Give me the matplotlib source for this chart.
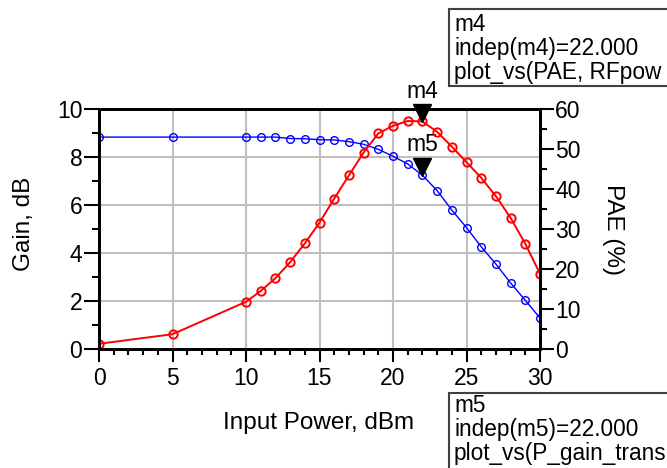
import matplotlib.pyplot as plt
import matplotlib.transforms as mtransforms
from matplotlib.patches import Rectangle

plt.rcParams['font.family'] = ['Liberation Sans', 'DejaVu Sans']

# input power sweep (dBm)
pin = [0, 5, 10, 11, 12, 13, 14, 15, 16, 17, 18, 19, 20,
       21, 22, 23, 24, 25, 26, 27, 28, 29, 30]
# transducer gain (dB)
gain = [8.83, 8.83, 8.83, 8.83, 8.83, 8.77, 8.76, 8.72, 8.71, 8.64, 8.53, 8.32, 8.03,
        7.71, 7.24, 6.60, 5.79, 5.06, 4.26, 3.54, 2.75, 2.03, 1.29]
# power added efficiency (%)
pae = [1.3, 3.7, 11.8, 14.5, 17.7, 21.7, 26.4, 31.6, 37.6, 43.4, 49.1, 53.9, 55.8,
       57.0, 56.9, 54.3, 50.6, 46.7, 42.8, 38.2, 32.8, 26.3, 18.8]

m4_x, m4_y = 22, 56.9
m5_x, m5_y = 22, 7.24

fig = plt.figure(figsize=(6.67, 4.68), dpi=100)
ax = fig.add_axes([99/667, 1 - 349/468, 441/667, 240/468])
ax2 = ax.twinx()

gridc = '#c0c0c0'
for v in [5, 10, 15, 20, 25]:
    ax.axvline(v, color=gridc, lw=1.5, zorder=0)
for v in [2, 4, 6, 8]:
    ax.axhline(v, color=gridc, lw=1.5, zorder=0)

ax.plot(pin, gain, color='#0000ff', lw=1, marker='o', ms=5.5, mfc='none', mew=1)
ax2.plot(pin, pae, color='#ff0000', lw=1.4, marker='o', ms=6, mfc='none', mew=1.4)

ax.set_xlim(0, 30)
ax.set_ylim(0, 10)
ax2.set_ylim(0, 60)
ax.set_xticks(range(0, 31, 5))
ax.set_xticks(range(0, 31), minor=True)
ax.set_yticks(range(0, 11, 2))
ax.set_yticks(range(0, 11), minor=True)
ax2.set_yticks(range(0, 61, 10))
ax2.set_yticks(range(0, 61, 5), minor=True)

ax.tick_params(axis='x', which='major', length=9, width=1.5, pad=4, labelsize=16.5)
ax.tick_params(axis='x', which='minor', length=4.5, width=1.5)
ax.tick_params(axis='y', which='major', length=11, width=1.5, pad=1, labelsize=16.5)
ax.tick_params(axis='y', which='minor', length=5, width=1.5)
ax2.tick_params(axis='y', which='major', length=10, width=1.5, pad=1, labelsize=16.5)
ax2.tick_params(axis='y', which='minor', length=5, width=1.5)
for a in (ax, ax2):
    for s in a.spines.values():
        s.set_linewidth(2)

# markers m4 / m5
ms_tri = 12.5
for a, x, y, name in [(ax2, m4_x, m4_y, 'm4'), (ax, m5_x, m5_y, 'm5')]:
    tr = mtransforms.offset_copy(a.transData, fig=fig, x=0, y=ms_tri / 2, units='points')
    a.plot([x], [y], marker='v', ms=ms_tri, color='black', transform=tr, clip_on=False, zorder=5)
    a.annotate(name, (x, y), xytext=(0, ms_tri + 1), textcoords='offset points',
               ha='center', va='bottom', fontsize=16.5, annotation_clip=False)

fig.text(24/667, 1 - 224/468, 'Gain, dB', rotation=90, ha='center', va='center', fontsize=17.5)
fig.text(613/667, 1 - 229/468, 'PAE (%)', rotation=270, ha='center', va='center', fontsize=17.5)
fig.text(319/667, 1 - 423/468, 'Input Power, dBm', ha='center', va='center', fontsize=17.5)

# marker readout boxes
for top, height, txt_off, lines in [(9, 77, 4, 'm4\nindep(m4)=22.000\nplot_vs(PAE, RFpow'),
                                    (393, 90, 1, 'm5\nindep(m5)=22.000\nplot_vs(P_gain_trans')]:
    fig.patches.append(Rectangle((449/667, 1 - (top + height)/468), 300/667, height/468,
                                 transform=fig.transFigure, fc='white', ec='#404040', lw=1.5))
    fig.text(454/667, 1 - (top + txt_off)/468, lines, ha='left', va='top', fontsize=16.3,
             linespacing=1.05)

fig.savefig('out.png', dpi=100)
